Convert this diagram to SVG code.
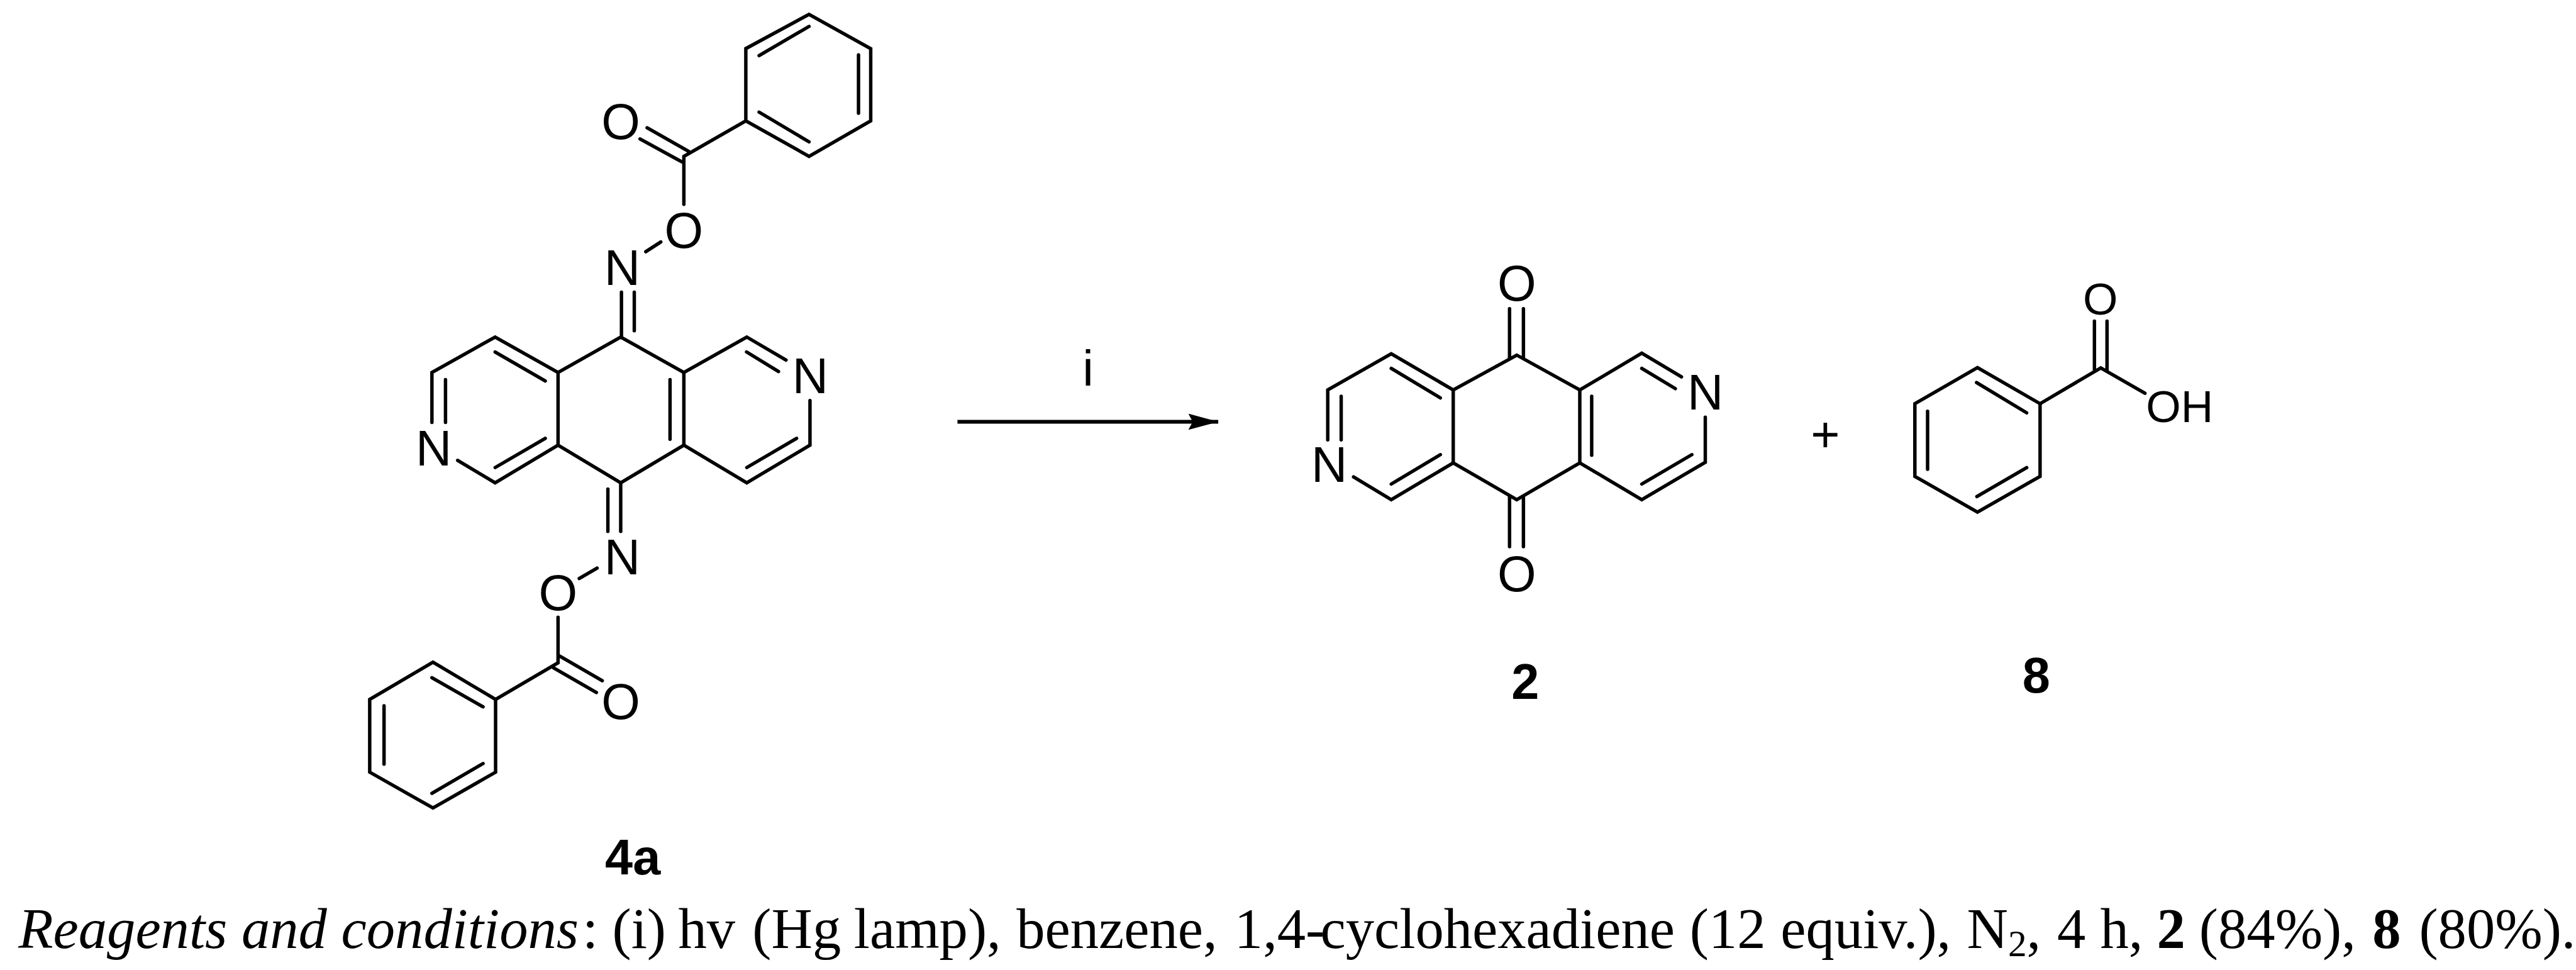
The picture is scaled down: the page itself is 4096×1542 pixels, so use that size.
<svg xmlns="http://www.w3.org/2000/svg" width="4096" height="1542" viewBox="0 0 4096 1542">
<style>
.b{fill:none;stroke:#000;stroke-width:5.5;stroke-linecap:round;stroke-linejoin:miter}
.a{font-family:"Liberation Sans",Arial,sans-serif;font-size:80px;fill:#000;text-anchor:middle}
.s{font-size:72px}
.l{font-weight:bold}
.c{font-family:"Liberation Serif","Times New Roman",serif;font-size:91.5px;fill:#000}
.i{font-style:italic}
.w{font-weight:bold}
</style>
<defs>
<marker id="ah" markerUnits="userSpaceOnUse" markerWidth="50" markerHeight="26" refX="48" refY="13" orient="auto">
<polygon points="0,0 48,13 0,26 7,13" fill="#000"/>
</marker>
</defs>
<rect width="4096" height="1542" fill="#fff"/>
<g transform="scale(0.99033)">
<g id="compound-4a">
<path class="b" d="M1299 23L1398 78V194L1299 251L1197.5 194V78ZM1218.8 89.3L1299 42.4M1378.4 88V181.7M1218.8 180L1299 227.7"/>
<path class="b" d="M1197.5 194L1098 251V328M1027.6 223L1095 260M1039 205L1105.7 243M1036.8 404L1061 388.4"/>
<path class="b" d="M997.8 469V541M1018.4 469V531"/>
<path class="b" d="M693.5 678V598L795 541L896 598L996.6 541L1098 598L1199 541L1262 578M795 565L875.5 611.6M715.3 609.4V678M1198.7 565L1250 596.4"/>
<path class="b" d="M896 598V714.6M1098 598V714.6M1075.8 609.4V705"/>
<path class="b" d="M1300.5 643V714.6L1199 775L1098 714.6L996.6 775L896 714.6L795 775L734.8 739M795 750.5L875.5 703.6M1199 750.5L1279 703.6"/>
<path class="b" d="M996.6 775V853M976 785V853M958.7 912L930 928.5M896 990.7V1064L795.7 1122.7M898.5 1053L967 1092.6M888.7 1072L957.6 1111.7"/>
<path class="b" d="M795.7 1122.7V1239.5L695.2 1297L593.6 1239.5V1122.7L695.2 1063ZM693.5 1087.8L775.6 1134.7M616.6 1133V1226.6M693.5 1273.5L775.6 1225.6"/>
<text class="a" x="996.6" y="223.5">O</text>
<text class="a" x="1098" y="398">O</text>
<text class="a" x="999" y="457">N</text>
<text class="a" x="1300.9" y="630.8">N</text>
<text class="a" x="696.4" y="747">N</text>
<text class="a" x="999" y="922">N</text>
<text class="a" x="896" y="979.5">O</text>
<text class="a" x="996.6" y="1154">O</text>
<text class="a l" x="1016" y="1403.5">4a</text>
</g>
<g id="compound-2">
<path class="b" d="M2131.8 706V626L2233.8 568L2333.3 626L2435.3 570L2536.5 626L2636 567L2699.8 605M2153.4 636V706M2233.8 591.4L2312.6 638.7M2636 591.4L2689.9 623.8"/>
<path class="b" d="M2333.3 626V743M2536.5 626V743M2555.6 636V730.7"/>
<path class="b" d="M2738 669.6V742L2636 802L2536.5 743L2435.3 802L2333.3 743L2233.8 802L2173.3 765.6M2233.8 777L2312.6 729.8M2716.4 729.8L2636 777"/>
<path class="b" d="M2423.7 495.4V574M2446 495.4V574M2423.7 798V877.5M2446 798V877.5"/>
<text class="a" x="2435.3" y="482.5">O</text>
<text class="a" x="2435.3" y="949">O</text>
<text class="a" x="2134.3" y="773">N</text>
<text class="a" x="2738" y="657.6">N</text>
<text class="a l" x="2449" y="1122">2</text>
</g>
<g id="compound-8">
<path class="b" d="M3175 590L3275.5 648V764.7L3175 822L3074.5 764.7V648ZM3173.5 614L3254 662.7M3094.9 660.2V753.2M3174 797L3254 750.7"/>
<path class="b" d="M3275.5 648L3373 590.5L3443.9 631.3M3362.8 515.4V596M3383 515.4V596"/>
<text class="a s" x="3372.4" y="505">O</text>
<text class="a s" x="3445.5" y="677.6" style="text-anchor:start">OH</text>
<text class="a l" x="3269.4" y="1111.4">8</text>
</g>
<g id="connectors">
<line x1="1537.3" y1="677" x2="1956" y2="677" stroke="#000" stroke-width="6" marker-end="url(#ah)"/>
</g>
<g id="labels">
<text class="a" x="1747" y="619">i</text>
<text class="a" x="2930.6" y="725">+</text>
<text class="c" y="1521.7"><tspan class="i" x="29.5">Reagents and conditions</tspan><tspan x="935">:</tspan> <tspan x="983">(i)</tspan> <tspan x="1089">hv</tspan> <tspan x="1208">(Hg</tspan> <tspan x="1371">lamp),</tspan> <tspan x="1632">benzene,</tspan> <tspan x="1982">1,4-</tspan><tspan x="2120">cyclohexadiene</tspan> <tspan x="2713">(12</tspan> <tspan x="2859">equiv.),</tspan> <tspan x="3158">N</tspan><tspan font-size="60" dy="13">2</tspan><tspan dy="-13">,</tspan> <tspan x="3303">4</tspan> <tspan x="3372">h,</tspan> <tspan class="w" x="3463">2</tspan> <tspan x="3531">(84%),</tspan> <tspan class="w" x="3809">8</tspan> <tspan x="3884">(80%).</tspan></text>
</g>
</g>
</svg>
